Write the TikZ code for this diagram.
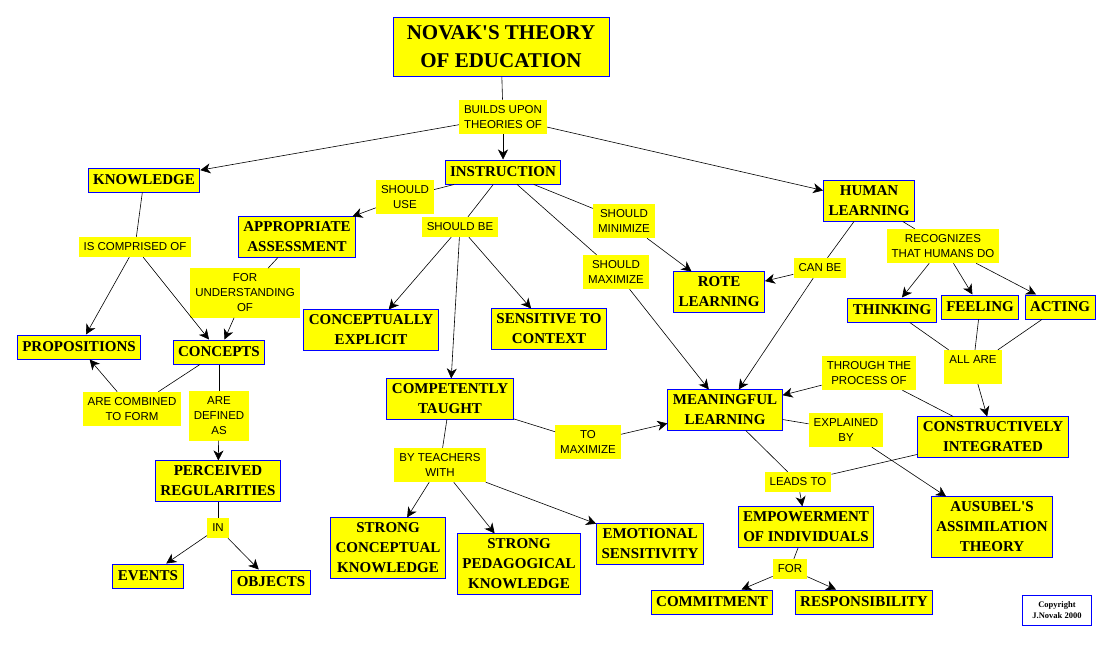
\documentclass[tikz,border=0pt]{standalone}
\usepackage{fontspec}
\setmainfont{Liberation Serif}
\newfontfamily\labelfont{Liberation Sans}
\usepackage{xcolor}
\definecolor{MapYellow}{HTML}{FFFF00}
\definecolor{MapBlue}{HTML}{0000FF}
\usetikzlibrary{arrows.meta}

\begin{document}
\begin{tikzpicture}[
    x=1pt, y=-1pt,
    >={Stealth[length=10pt,width=10pt,inset=3pt]},
    box/.style={align=center, inner xsep=5pt, fill=MapYellow},
    concept/.style={box, draw=MapBlue, line width=1pt, inner ysep=5pt, minimum height=24pt, font=\fontsize{15}{20}\selectfont\bfseries},
    lab/.style={box, inner ysep=5.5pt, minimum height=20pt, font=\labelfont\fontsize{11.5}{15}\selectfont},
    ln/.style={line width=0.6pt},
    arr/.style={ln, ->}
]
\path[use as bounding box, fill=white] (0,0) rectangle (1116,645);
% concepts
\node[concept, minimum width=216pt, inner ysep=8pt, font=\fontsize{21}{28}\selectfont\bfseries] (title) at (501,47) {NOVAK\textquotesingle S THEORY\\OF EDUCATION};
\node[concept] (instr) at (503,172) {INSTRUCTION};
\node[concept] (know) at (144,180) {KNOWLEDGE};
\node[concept] (human) at (869,201) {HUMAN\\LEARNING};
\node[concept] (assess) at (297,237) {APPROPRIATE\\ASSESSMENT};
\node[concept] (rote) at (719,292) {ROTE\\LEARNING};
\node[concept] (think) at (892,310) {THINKING};
\node[concept] (feel) at (980,307) {FEELING};
\node[concept] (act) at (1060,307) {ACTING};
\node[concept] (explicit) at (371,330) {CONCEPTUALLY\\EXPLICIT};
\node[concept] (context) at (549,329) {SENSITIVE TO\\CONTEXT};
\node[concept] (props) at (79,347) {PROPOSITIONS};
\node[concept] (concepts) at (219,352) {CONCEPTS};
\node[concept] (meaning) at (725,410) {MEANINGFUL\\LEARNING};
\node[concept] (taught) at (450,399) {COMPETENTLY\\TAUGHT};
\node[concept] (integ) at (993,437) {CONSTRUCTIVELY\\INTEGRATED};
\node[concept] (regul) at (218,481) {PERCEIVED\\REGULARITIES};
\node[concept] (ausubel) at (992,527) {AUSUBEL\textquotesingle S\\ASSIMILATION\\THEORY};
\node[concept] (empower) at (806,527) {EMPOWERMENT\\OF INDIVIDUALS};
\node[concept] (emot) at (650,544) {EMOTIONAL\\SENSITIVITY};
\node[concept] (sck) at (388,548) {STRONG\\CONCEPTUAL\\KNOWLEDGE};
\node[concept] (spk) at (519,564) {STRONG\\PEDAGOGICAL\\KNOWLEDGE};
\node[concept] (events) at (148,576) {EVENTS};
\node[concept] (objects) at (271,582) {OBJECTS};
\node[concept] (commit) at (712,602) {COMMITMENT};
\node[concept] (respons) at (864,602) {RESPONSIBILITY};
\node[concept, fill=white, minimum width=69pt, minimum height=30pt, inner ysep=3pt, font=\fontsize{8.5}{11}\selectfont\bfseries] (copy) at (1057,610) {Copyright\\J.Novak 2000};
% linking words
\node[lab] (builds) at (503,117) {BUILDS UPON\\THEORIES OF};
\node[lab] (use) at (405,197) {SHOULD\\USE};
\node[lab] (shouldbe) at (460,227) {SHOULD BE};
\node[lab] (minim) at (624,221) {SHOULD\\MINIMIZE};
\node[lab] (compr) at (135,247) {IS COMPRISED OF};
\node[lab] (maxim) at (616,272) {SHOULD\\MAXIMIZE};
\node[lab] (canbe) at (820,268) {CAN BE};
\node[lab] (recog) at (943,246) {RECOGNIZES\\THAT HUMANS DO};
\node[lab] (forund) at (245,293) {FOR\\UNDERSTANDING\\OF};
\node[lab] (allare) at (973,367) {ALL ARE\\~};
\node[lab] (through) at (869,373) {THROUGH THE\\PROCESS OF};
\node[lab] (combined) at (132,409) {ARE COMBINED\\TO FORM};
\node[lab] (defined) at (219,416) {ARE\\DEFINED\\AS};
\node[lab] (explained) at (846,430) {EXPLAINED\\BY};
\node[lab] (tomax) at (588,442) {TO\\MAXIMIZE};
\node[lab] (teachers) at (440,465) {BY TEACHERS\\WITH};
\node[lab] (leads) at (798,482) {LEADS TO};
\node[lab] (inlab) at (218,528) {IN};
\node[lab] (forlab) at (790,569) {FOR};
% links
\draw[ln] (title) -- (builds);
\draw[arr] (builds) -- (instr);
\draw[arr] (builds) -- (know);
\draw[arr] (builds) -- (human);
\draw[ln] (instr) -- (use);
\draw[arr] (use) -- (assess);
\draw[ln] (instr) -- (shouldbe);
\draw[arr] (shouldbe) -- (explicit);
\draw[arr] (shouldbe) -- (context);
\draw[arr] (shouldbe) -- (taught);
\draw[ln] (instr) -- (minim);
\draw[arr] (minim) -- (rote);
\draw[ln] (instr) -- (maxim);
\draw[arr] (maxim) -- (meaning);
\draw[ln] (know) -- (compr);
\draw[arr] (compr) -- (props);
\draw[arr] (compr) -- (concepts);
\draw[ln] (assess) -- (forund);
\draw[arr] (forund) -- (concepts);
\draw[ln] (concepts) -- (combined);
\draw[arr] (combined) -- (props);
\draw[ln] (concepts) -- (defined);
\draw[arr] (defined) -- (regul);
\draw[ln] (regul) -- (inlab);
\draw[arr] (inlab) -- (events);
\draw[arr] (inlab) -- (objects);
\draw[ln] (taught) -- (teachers);
\draw[arr] (teachers) -- (sck);
\draw[arr] (teachers) -- (spk);
\draw[arr] (teachers) -- (emot);
\draw[ln] (taught) -- (tomax);
\draw[arr] (tomax) -- (meaning);
\draw[ln] (human) -- (canbe);
\draw[arr] (canbe) -- (rote);
\draw[arr] (canbe) -- (meaning);
\draw[ln] (human) -- (recog);
\draw[arr] (recog) -- (think);
\draw[arr] (recog) -- (feel);
\draw[arr] (recog) -- (act);
\draw[ln] (think) -- (allare);
\draw[ln] (feel) -- (allare);
\draw[ln] (act) -- (allare);
\draw[arr] (allare) -- (integ);
\draw[ln] (integ) -- (through);
\draw[arr] (through) -- (meaning);
\draw[ln] (meaning) -- (explained);
\draw[arr] (explained) -- (ausubel);
\draw[ln] (meaning) -- (leads);
\draw[ln] (integ) -- (leads);
\draw[arr] (leads) -- (empower);
\draw[ln] (empower) -- (forlab);
\draw[arr] (forlab) -- (commit);
\draw[arr] (forlab) -- (respons);
\end{tikzpicture}
\end{document}
